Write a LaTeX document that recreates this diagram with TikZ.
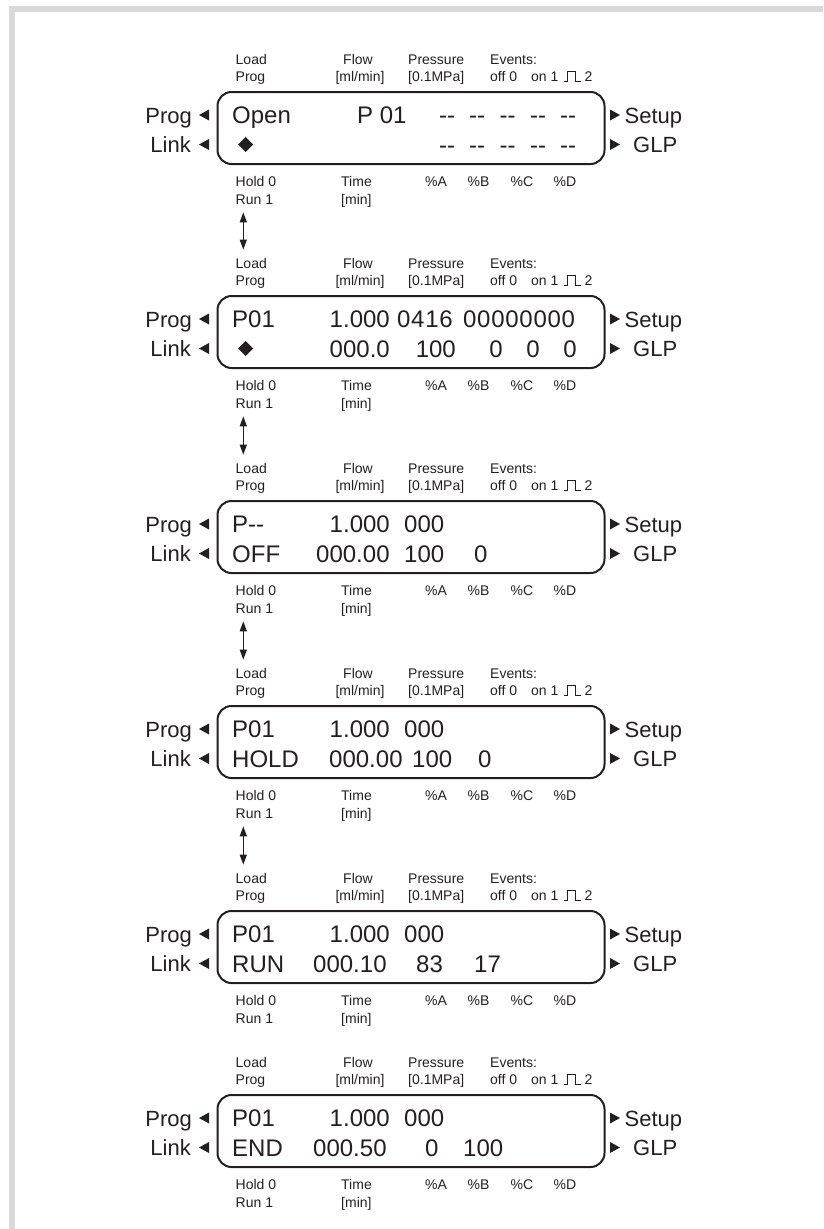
\documentclass[tikz,border=0pt]{standalone}
\usepackage{fontspec}
\setmainfont{Liberation Sans}
\usetikzlibrary{arrows.meta,shapes.geometric}
\definecolor{ink}{HTML}{231F20}
\definecolor{framegray}{HTML}{D9D9D9}
\tikzset{
 lbl/.style={font=\fontsize{14}{14}\selectfont, text=ink, inner sep=0pt, anchor=base west},
 lcd/.style={font=\fontsize{24}{24}\selectfont, text=ink, inner sep=0pt, anchor=base west},
 lcdr/.style={lcd, anchor=base east},
 lcdw/.style={font=\fontsize{24}{24}\selectfont\addfontfeature{LetterSpace=3}, text=ink, inner sep=0pt, anchor=base west},
 side/.style={font=\fontsize{22}{22}\selectfont, text=ink, inner sep=0pt},
 lcdbox/.style={draw=ink, line width=2pt, rounded corners=14pt, minimum width=387pt, minimum height=72pt, inner sep=0pt},
 dbl/.style={draw=ink, line width=1.3pt, {Triangle[length=10pt,width=7pt]}-{Triangle[length=10pt,width=7pt]}},
 dia/.style={diamond, fill=ink, inner sep=0pt, minimum width=15pt, minimum height=15pt},
}
\newcommand\lcdframe[3]{%
\begin{scope}[shift={(0,#2)}]
 \node[lcdbox] (#1box) at (411,36) {};
 \node[lbl] (#1load) at (235.5,-28) {Load};
 \node[lbl] (#1prog) at (235.5,-11) {Prog};
 \node[lbl,anchor=base] (#1flow) at (358,-28) {Flow};
 \node[lbl,anchor=base] (#1mlmin) at (360,-11) {[ml/min]};
 \node[lbl] (#1press) at (408,-28) {Pressure};
 \node[lbl] (#1mpa) at (408,-11) {[0.1MPa]};
 \node[lbl] (#1events) at (490,-28) {Events:};
 \node[lbl] (#1off) at (490,-11) {off 0};
 \node[lbl] (#1on) at (531,-11) {on 1};
 \node[lbl] (#1two) at (584.5,-11) {2};
 \draw[ink, line width=0.8pt] (564,-11) -- (567.5,-11) -- (567.5,-21) -- (575,-21) -- (575,-11) -- (581,-11);
 \node[lbl] (#1hold) at (235.5,94) {Hold 0};
 \node[lbl] (#1run) at (235.5,112) {Run 1};
 \node[lbl] (#1time) at (341,94) {Time};
 \node[lbl] (#1min) at (341,112) {[min]};
 \node[lbl] (#1pa) at (425,94) {\%A};
 \node[lbl] (#1pb) at (467.5,94) {\%B};
 \node[lbl] (#1pc) at (510.5,94) {\%C};
 \node[lbl] (#1pd) at (553.5,94) {\%D};
 \node[side,anchor=base east] (#1sprog) at (192,31) {Prog};
 \fill[ink] (199,23) -- (209,17.5) -- (209,28.5) -- cycle;
 \node[side,anchor=base east] (#1slink) at (191,60.5) {Link};
 \fill[ink] (199,52.5) -- (209,47) -- (209,58) -- cycle;
 \fill[ink] (620,23) -- (610,17.5) -- (610,28.5) -- cycle;
 \node[side,anchor=base west] (#1ssetup) at (624.5,31) {Setup};
 \fill[ink] (620,52.5) -- (610,47) -- (610,58) -- cycle;
 \node[side,anchor=base west] (#1sglp) at (633,60.5) {GLP};
 #3
\end{scope}}
\begin{document}
\begin{tikzpicture}[x=1pt,y=-1pt]
\useasboundingbox (0,0) rectangle (823,1229);
\fill[framegray] (9,6) rectangle (823,12);
\fill[framegray] (9,6) rectangle (15,1229);

\lcdframe{p1}{92}{%
 \node[lcd] (p1a) at (232,31.6) {Open};
 \node[lcd] (p1b) at (357,31.6) {P 01};
 \node[lcd] (p1d1) at (439,31.6) {-{}-};
 \node[lcd] (p1d2) at (469,31.6) {-{}-};
 \node[lcd] (p1d3) at (499.5,31.6) {-{}-};
 \node[lcd] (p1d4) at (530,31.6) {-{}-};
 \node[lcd] (p1d5) at (560,31.6) {-{}-};
 \node[dia] (p1dia) at (245.6,52.5) {};
 \node[lcd] (p1e1) at (439,61) {-{}-};
 \node[lcd] (p1e2) at (469,61) {-{}-};
 \node[lcd] (p1e3) at (499.5,61) {-{}-};
 \node[lcd] (p1e4) at (530,61) {-{}-};
 \node[lcd] (p1e5) at (560,61) {-{}-};
}
\lcdframe{p2}{296}{%
 \node[lcd] (p2a) at (232,31.6) {P01};
 \node[lcdr] (p2b) at (390,31.6) {1.000};
 \node[lcdw] (p2c) at (397,31.6) {0416};
 \node[lcdw] (p2d) at (463,31.6) {00000000};
 \node[dia] (p2dia) at (245.6,52.5) {};
 \node[lcdr] (p2e) at (390,61) {000.0};
 \node[lcdr] (p2f) at (456,61) {100};
 \node[lcdr] (p2g) at (503,61) {0};
 \node[lcdr] (p2h) at (540,61) {0};
 \node[lcdr] (p2i) at (577,61) {0};
}
\lcdframe{p3}{501}{%
 \node[lcd] (p3a) at (232,31.6) {P-{}-};
 \node[lcdr] (p3b) at (390,31.6) {1.000};
 \node[lcd] (p3c) at (404,31.6) {000};
 \node[lcd] (p3d) at (232,61) {OFF};
 \node[lcd] (p3e) at (316,61) {000.00};
 \node[lcd] (p3f) at (404,61) {100};
 \node[lcd] (p3g) at (474,61) {0};
}
\lcdframe{p4}{706}{%
 \node[lcd] (p4a) at (232,31.6) {P01};
 \node[lcdr] (p4b) at (390,31.6) {1.000};
 \node[lcd] (p4c) at (404,31.6) {000};
 \node[lcd] (p4d) at (232,61) {HOLD};
 \node[lcd] (p4e) at (329,61) {000.00};
 \node[lcd] (p4f) at (412,61) {100};
 \node[lcd] (p4g) at (478,61) {0};
}
\lcdframe{p5}{911}{%
 \node[lcd] (p5a) at (232,31.6) {P01};
 \node[lcdr] (p5b) at (390,31.6) {1.000};
 \node[lcd] (p5c) at (404,31.6) {000};
 \node[lcd] (p5d) at (232,61) {RUN};
 \node[lcd] (p5e) at (313,61) {000.10};
 \node[lcd] (p5f) at (416,61) {83};
 \node[lcd] (p5g) at (474,61) {17};
}
\lcdframe{p6}{1095}{%
 \node[lcd] (p6a) at (232,31.6) {P01};
 \node[lcdr] (p6b) at (390,31.6) {1.000};
 \node[lcd] (p6c) at (404,31.6) {000};
 \node[lcd] (p6d) at (232,61) {END};
 \node[lcd] (p6e) at (313,61) {000.50};
 \node[lcd] (p6f) at (425,61) {0};
 \node[lcd] (p6g) at (463,61) {100};
}

\draw[dbl] ([xshift=7.8pt,yshift=-8pt]p1run.south west) -- ([xshift=7.8pt,yshift=8pt]p2load.north west);
\draw[dbl] ([xshift=7.8pt,yshift=-8pt]p2run.south west) -- ([xshift=7.8pt,yshift=8pt]p3load.north west);
\draw[dbl] ([xshift=7.8pt,yshift=-8pt]p3run.south west) -- ([xshift=7.8pt,yshift=8pt]p4load.north west);
\draw[dbl] ([xshift=7.8pt,yshift=-8pt]p4run.south west) -- ([xshift=7.8pt,yshift=8pt]p5load.north west);
\end{tikzpicture}
\end{document}
